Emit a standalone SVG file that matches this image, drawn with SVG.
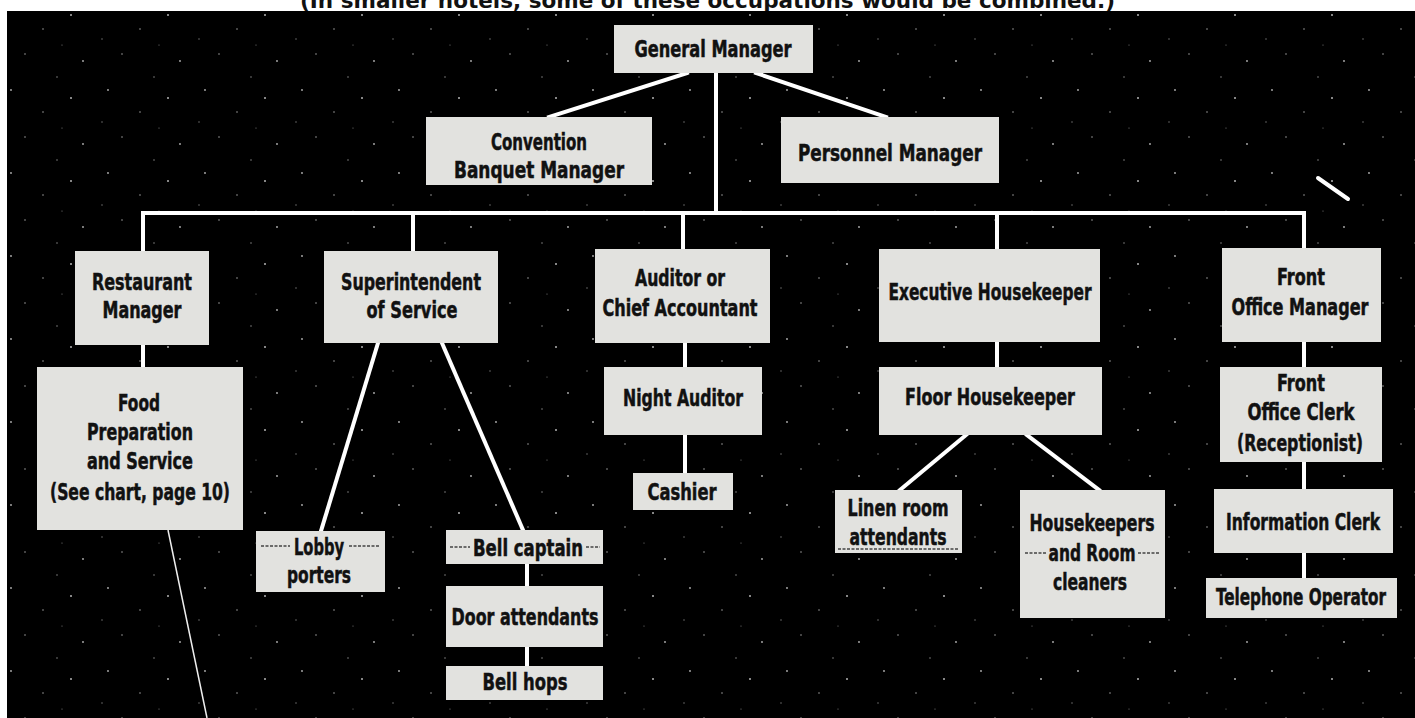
<svg xmlns="http://www.w3.org/2000/svg" width="1415" height="718" viewBox="0 0 1415 718">
<defs>
<style>
.bx{fill:#e2e2df;}
.t{font-family:"DejaVu Sans Condensed","Liberation Sans Narrow","Liberation Sans",sans-serif;font-weight:bold;font-size:23px;fill:#111;stroke:#111;stroke-width:0.5;text-anchor:middle;}
.ln{stroke:#fff;stroke-width:4;fill:none;stroke-linecap:square;}
.thin{stroke:#eee;stroke-width:1.5;fill:none;}
.noise{stroke:#444;stroke-width:1.3;fill:none;stroke-dasharray:3 1.5;}
.hdr{font-family:"DejaVu Sans Condensed","Liberation Sans Narrow","Liberation Sans",sans-serif;font-weight:bold;font-size:22px;fill:#111;}
</style>
<pattern id="spk" width="97" height="83" patternUnits="userSpaceOnUse">
<circle cx="11" cy="7" r="0.9" fill="#fff" opacity="0.7"/>
<circle cx="43" cy="29" r="0.8" fill="#fff" opacity="0.6"/>
<circle cx="71" cy="15" r="1" fill="#fff" opacity="0.7"/>
<circle cx="25" cy="54" r="0.8" fill="#fff" opacity="0.6"/>
<circle cx="83" cy="61" r="0.9" fill="#fff" opacity="0.7"/>
<circle cx="57" cy="77" r="0.7" fill="#fff" opacity="0.6"/>
<circle cx="5" cy="39" r="0.7" fill="#fff" opacity="0.5"/>
<circle cx="62" cy="45" r="0.6" fill="#fff" opacity="0.5"/>
</pattern>
</defs>
<rect x="0" y="0" width="1415" height="718" fill="#fff"/>
<text class="hdr" x="300" y="8" textLength="815" lengthAdjust="spacingAndGlyphs">(In smaller hotels, some of these occupations would be combined.)</text>
<rect x="7" y="11" width="1408" height="707" fill="#000"/>
<rect x="7" y="11" width="1408" height="707" fill="url(#spk)"/>

<g id="connectors">
<line class="ln" x1="687" y1="73" x2="549" y2="117"/>
<line class="ln" x1="756" y1="73" x2="886" y2="117"/>
<line class="ln" x1="716" y1="73" x2="716" y2="213"/>
<line class="ln" x1="143" y1="213" x2="1304" y2="213"/>
<line class="ln" x1="143" y1="213" x2="143" y2="251"/>
<line class="ln" x1="413" y1="213" x2="413" y2="251"/>
<line class="ln" x1="683" y1="213" x2="683" y2="249"/>
<line class="ln" x1="997" y1="213" x2="997" y2="249"/>
<line class="ln" x1="1304" y1="213" x2="1304" y2="248"/>
<line class="ln" x1="143" y1="345" x2="143" y2="367"/>
<line class="ln" x1="378" y1="343" x2="321" y2="531" stroke-width="5"/>
<line class="ln" x1="442" y1="343" x2="523" y2="530" stroke-width="5"/>
<line class="ln" x1="527" y1="564" x2="527" y2="586"/>
<line class="ln" x1="527" y1="647" x2="527" y2="666"/>
<line class="ln" x1="685" y1="343" x2="685" y2="367"/>
<line class="ln" x1="685" y1="435" x2="685" y2="473"/>
<line class="ln" x1="997" y1="342" x2="997" y2="367"/>
<line class="ln" x1="966" y1="435" x2="900" y2="490"/>
<line class="ln" x1="1027" y1="435" x2="1099" y2="490"/>
<line class="ln" x1="1304" y1="342" x2="1304" y2="367"/>
<line class="ln" x1="1304" y1="462" x2="1304" y2="489"/>
<line class="ln" x1="1304" y1="553" x2="1304" y2="578"/>
<line class="thin" x1="168" y1="530" x2="207" y2="718"/>
<line x1="1318" y1="178" x2="1348" y2="199" stroke="#fff" stroke-width="4" stroke-linecap="round"/>
</g>

<g id="general-manager"><rect class="bx" x="614" y="25" width="199" height="48"/><text class="t" x="713" y="57" textLength="157" lengthAdjust="spacingAndGlyphs">General Manager</text></g>
<g id="convention-banquet-manager"><rect class="bx" x="426" y="117" width="226" height="68"/><text class="t" x="539" y="150" textLength="96" lengthAdjust="spacingAndGlyphs">Convention</text><text class="t" x="539" y="178" textLength="170" lengthAdjust="spacingAndGlyphs">Banquet Manager</text></g>
<g id="personnel-manager"><rect class="bx" x="781" y="117" width="218" height="66"/><text class="t" x="890" y="161" textLength="184" lengthAdjust="spacingAndGlyphs">Personnel Manager</text></g>

<g id="restaurant-manager"><rect class="bx" x="75" y="251" width="134" height="94"/><text class="t" x="142" y="290" textLength="100" lengthAdjust="spacingAndGlyphs">Restaurant</text><text class="t" x="142" y="318" textLength="79" lengthAdjust="spacingAndGlyphs">Manager</text></g>
<g id="superintendent-of-service"><rect class="bx" x="324" y="251" width="174" height="92"/><text class="t" x="411" y="290" textLength="140" lengthAdjust="spacingAndGlyphs">Superintendent</text><text class="t" x="412" y="318" textLength="91" lengthAdjust="spacingAndGlyphs">of Service</text></g>
<g id="auditor"><rect class="bx" x="595" y="249" width="175" height="94"/><text class="t" x="680" y="286" textLength="90" lengthAdjust="spacingAndGlyphs">Auditor or</text><text class="t" x="680" y="316" textLength="155" lengthAdjust="spacingAndGlyphs">Chief Accountant</text></g>
<g id="executive-housekeeper"><rect class="bx" x="879" y="249" width="221" height="93"/><text class="t" x="990" y="300" textLength="203" lengthAdjust="spacingAndGlyphs">Executive Housekeeper</text></g>
<g id="front-office-manager"><rect class="bx" x="1222" y="248" width="159" height="94"/><text class="t" x="1301" y="285" textLength="48" lengthAdjust="spacingAndGlyphs">Front</text><text class="t" x="1300" y="315" textLength="137" lengthAdjust="spacingAndGlyphs">Office Manager</text></g>

<g id="food-preparation"><rect class="bx" x="37" y="367" width="206" height="163"/><text class="t" x="139" y="411" textLength="42" lengthAdjust="spacingAndGlyphs">Food</text><text class="t" x="140" y="440" textLength="106" lengthAdjust="spacingAndGlyphs">Preparation</text><text class="t" x="140" y="469" textLength="106" lengthAdjust="spacingAndGlyphs">and Service</text><text class="t" x="140" y="500" textLength="180" lengthAdjust="spacingAndGlyphs">(See chart, page 10)</text></g>
<g id="lobby-porters"><rect class="bx" x="256" y="531" width="129" height="61"/><path class="noise" d="M261 546 H290 M349 546 H380"/><text class="t" x="319" y="555" textLength="50" lengthAdjust="spacingAndGlyphs">Lobby</text><text class="t" x="319" y="583" textLength="64" lengthAdjust="spacingAndGlyphs">porters</text></g>
<g id="bell-captain"><rect class="bx" x="446" y="530" width="157" height="34"/><path class="noise" d="M450 547 H470 M586 547 H600"/><text class="t" x="528" y="556" textLength="110" lengthAdjust="spacingAndGlyphs">Bell captain</text></g>
<g id="door-attendants"><rect class="bx" x="446" y="586" width="157" height="61"/><text class="t" x="525" y="625" textLength="147" lengthAdjust="spacingAndGlyphs">Door attendants</text></g>
<g id="bell-hops"><rect class="bx" x="446" y="666" width="157" height="34"/><text class="t" x="525" y="690" textLength="85" lengthAdjust="spacingAndGlyphs">Bell hops</text></g>
<g id="night-auditor"><rect class="bx" x="604" y="367" width="158" height="68"/><text class="t" x="683" y="406" textLength="120" lengthAdjust="spacingAndGlyphs">Night Auditor</text></g>
<g id="cashier"><rect class="bx" x="633" y="473" width="100" height="37"/><text class="t" x="682" y="500" textLength="69" lengthAdjust="spacingAndGlyphs">Cashier</text></g>
<g id="floor-housekeeper"><rect class="bx" x="879" y="367" width="223" height="68"/><text class="t" x="990" y="405" textLength="170" lengthAdjust="spacingAndGlyphs">Floor Housekeeper</text></g>
<g id="linen-room-attendants"><rect class="bx" x="835" y="490" width="127" height="63"/><path class="noise" d="M838 549 H959"/><text class="t" x="898" y="516" textLength="101" lengthAdjust="spacingAndGlyphs">Linen room</text><text class="t" x="898" y="545" textLength="97" lengthAdjust="spacingAndGlyphs">attendants</text></g>
<g id="housekeepers-room-cleaners"><rect class="bx" x="1020" y="490" width="145" height="128"/><path class="noise" d="M1025 553 H1046 M1138 553 H1160"/><text class="t" x="1092" y="531" textLength="125" lengthAdjust="spacingAndGlyphs">Housekeepers</text><text class="t" x="1092" y="561" textLength="87" lengthAdjust="spacingAndGlyphs">and Room</text><text class="t" x="1090" y="590" textLength="74" lengthAdjust="spacingAndGlyphs">cleaners</text></g>
<g id="front-office-clerk"><rect class="bx" x="1220" y="367" width="162" height="95"/><text class="t" x="1301" y="391" textLength="48" lengthAdjust="spacingAndGlyphs">Front</text><text class="t" x="1301" y="420" textLength="107" lengthAdjust="spacingAndGlyphs">Office Clerk</text><text class="t" x="1300" y="451" textLength="126" lengthAdjust="spacingAndGlyphs">(Receptionist)</text></g>
<g id="information-clerk"><rect class="bx" x="1214" y="489" width="179" height="64"/><text class="t" x="1303" y="530" font-size="22" textLength="154" lengthAdjust="spacingAndGlyphs">Information Clerk</text></g>
<g id="telephone-operator"><rect class="bx" x="1206" y="578" width="191" height="40"/><text class="t" x="1301" y="605" font-size="22" textLength="170" lengthAdjust="spacingAndGlyphs">Telephone Operator</text></g>
</svg>
